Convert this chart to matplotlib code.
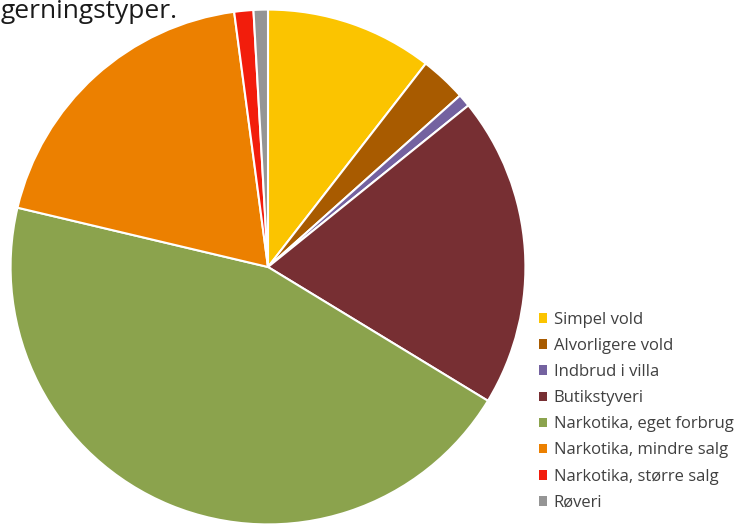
import matplotlib
matplotlib.use("Agg")
import matplotlib.pyplot as plt
from matplotlib.patches import Patch

labels = ["Simpel vold", "Alvorligere vold", "Indbrud i villa", "Butikstyveri",
          "Narkotika, eget forbrug", "Narkotika, mindre salg",
          "Narkotika, større salg", "Røveri"]
values = [10.5, 2.9, 0.8, 19.5, 45.0, 19.2, 1.2, 0.9]
colors = ["#FBC400", "#A85B00", "#7462A0", "#772F33", "#8BA34D", "#EC8000", "#F21D0C", "#959595"]

plt.rcParams['font.family'] = ['Open Sans', 'DejaVu Sans']

W, H = 741, 525
fig = plt.figure(figsize=(W/100, H/100), dpi=100)
cx, cy, r = 268, 267, 260
ax = fig.add_axes([(cx - r)/W, (H - cy - r)/H, 2*r/W, 2*r/H])
ax.pie(values, colors=colors, startangle=90, counterclock=False, radius=1,
       wedgeprops=dict(edgecolor="white", linewidth=1.5))
ax.set_xlim(-1.01, 1.01)
ax.set_ylim(-1.01, 1.01)
ax.axis("off")

fig.text(1/W, 1 + 1/H, "gerningstyper.", fontsize=19, color="#1a1a1a",
         ha="left", va="top")

handles = [Patch(facecolor=c, edgecolor="none") for c in colors]
leg = fig.legend(handles, labels, loc="upper left", bbox_to_anchor=(532/W, 1 - 305/H),
                 frameon=False, fontsize=12, handlelength=0.5, handleheight=0.5,
                 handletextpad=0.4, labelspacing=0.61, borderaxespad=0)
for t in leg.get_texts():
    t.set_color("#404040")

fig.savefig("out.png", dpi=100)
